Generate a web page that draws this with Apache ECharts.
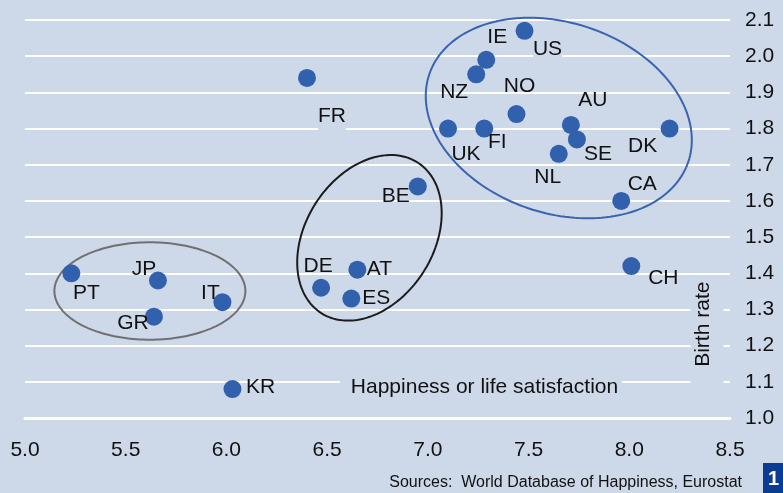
<!DOCTYPE html>
<html>
<head>
<meta charset="utf-8">
<script src="https://cdn.jsdelivr.net/npm/echarts@6/dist/echarts.min.js"></script>
<style>
  html, body { margin: 0; padding: 0; background: #cdd8e9; }
  #chart { width: 783px; height: 493px; }
</style>
</head>
<body>
<div id="chart"></div>
<script>
// country codes and values
const countries = ['FR', 'IE', 'US', 'NZ', 'NO', 'UK', 'FI', 'AU', 'SE', 'NL', 'DK', 'CA', 'BE', 'CH', 'PT', 'JP', 'IT', 'GR', 'DE', 'AT', 'ES', 'KR']
const happiness = [6.40, 7.29, 7.48, 7.24, 7.44, 7.10, 7.28, 7.71, 7.74, 7.65, 8.20, 7.96, 6.95, 8.01, 5.23, 5.66, 5.98, 5.64, 6.47, 6.65, 6.62, 6.03]
const birthRate = [1.94, 1.99, 2.07, 1.95, 1.84, 1.80, 1.80, 1.81, 1.77, 1.73, 1.80, 1.60, 1.64, 1.42, 1.40, 1.38, 1.32, 1.28, 1.36, 1.41, 1.33, 1.08]

const xTicks = ['5.0', '5.5', '6.0', '6.5', '7.0', '7.5', '8.0', '8.5']
const yTicks = ['1.0', '1.1', '1.2', '1.3', '1.4', '1.5', '1.6', '1.7', '1.8', '1.9', '2.0', '2.1']

// cluster ellipses: centre in data units
const ellipseX = [5.62, 6.71, 7.65]
const ellipseY = [1.351, 1.498, 1.829]

// label placement (px from the dot centre)
const labelOffset = {
  FR: [25, 38], IE: [11, -23], US: [23, 18], NZ: [-22, 18], NO: [3, -28],
  UK: [18, 26], FI: [13, 14], AU: [22, -25], SE: [21, 15], NL: [-11, 23],
  DK: [-27, 18], CA: [21, -17], BE: [-22, 10], CH: [32, 12], PT: [15, 20],
  JP: [-14, -11], IT: [-12, -9], GR: [-21, 7], DE: [-3, -22], AT: [22, 0],
  ES: [25, 0], KR: [28, -2]
}
// labels that cut the grid line behind them
const gapLabels = ['FR', 'US']

const BG = '#cdd8e9'
const DOT = '#3161ad'
const FONT = '"Liberation Sans", Arial, Helvetica, sans-serif'
const ellipseStyle = [
  { rx: 95.5, ry: 48.7, tilt: 0, color: '#707070' },
  { rx: 89.4, ry: 63.9, tilt: -57.4, color: '#1c1c1c' },
  { rx: 136.7, ry: 95.2, tilt: 18.7, color: '#3a64b0' }
]

const chart = echarts.init(document.getElementById('chart'))

const points = countries.map((c, i) => {
  const gap = gapLabels.indexOf(c) >= 0
  return {
    value: [happiness[i], birthRate[i]],
    name: c,
    label: {
      show: true,
      position: 'inside',
      offset: labelOffset[c],
      formatter: c,
      color: '#111',
      fontSize: 21,
      fontFamily: FONT,
      backgroundColor: gap ? BG : 'transparent',
      lineHeight: gap ? 32 : 21
    }
  }
})

const option = {
  backgroundColor: BG,
  animation: false,
  grid: { left: 25, right: 53, top: 20, bottom: 75, containLabel: false },
  xAxis: {
    type: 'value',
    min: 5.0,
    max: 8.5,
    interval: 0.5,
    axisLine: { show: true, lineStyle: { color: '#fff', width: 3 } },
    axisTick: { show: false },
    splitLine: { show: false },
    axisLabel: {
      margin: 22,
      color: '#111',
      fontSize: 21,
      fontFamily: FONT,
      formatter: (v) => xTicks[Math.round((v - 5) / 0.5)]
    }
  },
  yAxis: {
    type: 'value',
    position: 'right',
    min: 1.0,
    max: 2.1,
    interval: 0.1,
    axisLine: { show: false },
    axisTick: { show: false },
    splitLine: { show: true, lineStyle: { color: '#fff', width: 2 } },
    axisLabel: {
      margin: 15,
      color: '#111',
      fontSize: 21,
      fontFamily: FONT,
      formatter: (v) => yTicks[Math.round((v - 1) / 0.1)]
    }
  },
  series: [
    {
      type: 'custom',
      silent: true,
      clip: false,
      z: 3,
      data: ellipseX.map((x, i) => [x, ellipseY[i]]),
      renderItem: function (params, api) {
        const e = ellipseStyle[params.dataIndex]
        const c = api.coord([api.value(0), api.value(1)])
        const r = e.tilt * Math.PI / 180
        const pts = []
        for (let k = 0; k < 180; k++) {
          const t = k / 180 * Math.PI * 2
          const ex = e.rx * Math.cos(t)
          const ey = e.ry * Math.sin(t)
          pts.push([c[0] + ex * Math.cos(r) - ey * Math.sin(r), c[1] + ex * Math.sin(r) + ey * Math.cos(r)])
        }
        return {
          type: 'polygon',
          shape: { points: pts },
          style: { fill: 'none', stroke: e.color, lineWidth: 2 }
        }
      }
    },
    {
      type: 'scatter',
      z: 4,
      symbolSize: 18,
      itemStyle: { color: DOT, opacity: 1 },
      data: points
    }
  ],
  graphic: [
    // gaps in grid lines behind the axis titles
    { type: 'rect', z: 1, silent: true, shape: { x: 340, y: 376, width: 282, height: 22 }, style: { fill: BG } },
    { type: 'rect', z: 1, silent: true, shape: { x: 690.5, y: 279, width: 33, height: 110 }, style: { fill: BG } },
    {
      type: 'text', z: 5, silent: true, x: 484.5, y: 387,
      style: { text: 'Happiness or life satisfaction', font: '21px ' + FONT, fill: '#111', align: 'center', verticalAlign: 'middle' }
    },
    {
      type: 'text', z: 5, silent: true, x: 703.7, y: 324.2, rotation: Math.PI / 2,
      style: { text: 'Birth rate', font: '21px ' + FONT, fill: '#111', align: 'center', verticalAlign: 'middle' }
    },
    {
      type: 'text', z: 5, silent: true, x: 742, y: 483,
      style: { text: 'Sources:  World Database of Happiness, Eurostat', font: '16px ' + FONT, fill: '#111', align: 'right', verticalAlign: 'middle' }
    },
    { type: 'rect', z: 5, silent: true, shape: { x: 763, y: 463, width: 30, height: 30 }, style: { fill: '#0b3c93' } },
    {
      type: 'text', z: 6, silent: true, x: 768, y: 479,
      style: { text: '1', font: 'bold 20px ' + FONT, fill: '#fff', align: 'left', verticalAlign: 'middle' }
    }
  ]
}

chart.setOption(option)
</script>
</body>
</html>
